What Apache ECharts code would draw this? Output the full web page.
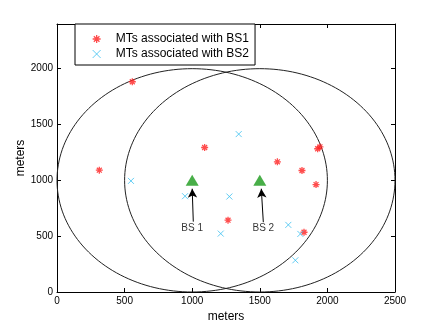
<!DOCTYPE html>
<html>
<head>
<meta charset="utf-8">
<script src="https://cdn.jsdelivr.net/npm/echarts@6/dist/echarts.min.js"></script>
<style>
  html, body { margin: 0; padding: 0; background: #fff; }
  #chart { width: 436px; height: 328px; }
</style>
</head>
<body>
<div id="chart"></div>
<script>
// mobile terminals served by each base station
const bs1Points = [
  [313, 1091], [557, 1883], [1092, 1294], [1630, 1166], [1812, 1088],
  [1928, 1283], [1945, 1300], [1916, 962], [1265, 643], [1827, 535]
];
const bs2Points = [
  [547, 995], [947, 858], [1344, 1414], [1275, 855], [1211, 523],
  [1711, 601], [1800, 520], [1763, 284]
];
// base stations and their coverage
const stations = [[1000, 1000], [1500, 1000]];
const coverageRadius = [1000, 1000];
// annotation arrows: [tail, tip] and label positions
const arrows = [
  [[1008, 630], [1000, 925]],
  [[1526, 625], [1511, 925]]
];
const arrowLabels = [[1000, 571, 'BS 1'], [1526, 571, 'BS 2']];
const xTicks = [0, 500, 1000, 1500, 2000, 2500];
const yTicks = [0, 500, 1000, 1500, 2000];

const chart = echarts.init(document.getElementById('chart'));

// coverage circles drawn from center and radius
function circle(c, r) {
  const pts = [];
  for (let i = 0; i <= 360; i += 2) {
    const a = i * Math.PI / 180;
    pts.push([c[0] + r * Math.cos(a), c[1] + r * Math.sin(a)]);
  }
  return pts;
}

const asterisk = 'path://M5,0L5,10M0,5L10,5M1.5,1.5L8.5,8.5M1.5,8.5L8.5,1.5';
const cross = 'path://M0,0L10,10M0,10L10,0';

const font = 'Liberation Sans, Arial, Helvetica, sans-serif';

const circleSeries = stations.map((c, i) => ({
  type: 'line',
  data: circle(c, coverageRadius[i]),
  showSymbol: false,
  silent: true,
  lineStyle: { color: '#222', width: 1 },
  z: 1
}));

const boxAxis = {
  type: 'value',
  axisLine: { show: true, onZero: false, lineStyle: { color: '#000' } },
  axisTick: { inside: true, length: 4, lineStyle: { color: '#000' } },
  axisLabel: { show: false },
  splitLine: { show: false }
};

const option = {
  animation: false,
  textStyle: { fontFamily: font },
  grid: { left: 57, right: 41, top: 24, bottom: 36 },
  legend: {
    orient: 'vertical',
    left: 75,
    top: 24,
    width: 170,
    backgroundColor: '#fff',
    borderColor: '#000',
    borderWidth: 1,
    borderRadius: 0,
    padding: [9, 6, 5, 17],
    itemGap: 3,
    itemWidth: 8,
    itemHeight: 8,
    textStyle: { fontSize: 12, color: '#000', padding: [0, 0, 0, 10], fontFamily: font },
    data: [
      { name: 'MTs associated with BS1', icon: asterisk,
        itemStyle: { color: 'transparent', borderColor: '#ff2020', borderWidth: 1.3 } },
      { name: 'MTs associated with BS2', icon: cross,
        itemStyle: { color: 'transparent', borderColor: '#3cc0f0', borderWidth: 1 } }
    ]
  },
  xAxis: [{
    type: 'value', min: 0, max: 2500, interval: 500,
    name: 'meters', nameLocation: 'middle', nameGap: 19, nameMoveOverlap: false,
    nameTextStyle: { fontSize: 12, color: '#000' },
    axisLine: { show: true, onZero: false, lineStyle: { color: '#000' } },
    axisTick: { inside: true, length: 4, lineStyle: { color: '#000' } },
    axisLabel: {
      fontSize: 10, color: '#000', margin: 4,
      formatter: v => (xTicks.indexOf(v) >= 0 ? String(v) : '')
    },
    splitLine: { show: false }
  }, Object.assign({}, boxAxis, { min: 0, max: 2500, interval: 500, position: 'top' })],
  yAxis: [{
    type: 'value', min: 0, max: 2400, interval: 500,
    name: 'meters', nameLocation: 'middle', nameGap: 30, nameMoveOverlap: false,
    nameTextStyle: { fontSize: 12, color: '#000' },
    axisLine: { show: true, onZero: false, lineStyle: { color: '#000' } },
    axisTick: { inside: true, length: 4, lineStyle: { color: '#000' } },
    axisLabel: {
      fontSize: 10, color: '#000', margin: 4,
      formatter: v => (yTicks.indexOf(v) >= 0 ? String(v) : '')
    },
    splitLine: { show: false }
  }, Object.assign({}, boxAxis, { min: 0, max: 2400, interval: 500, position: 'right' })],
  series: [
    ...circleSeries,
    {
      name: 'MTs associated with BS1',
      type: 'scatter',
      data: bs1Points,
      symbol: asterisk,
      symbolSize: 7,
      itemStyle: { color: 'transparent', borderColor: '#ff2020', borderWidth: 1.3 },
      z: 3
    },
    {
      name: 'MTs associated with BS2',
      type: 'scatter',
      data: bs2Points,
      symbol: cross,
      symbolSize: 6,
      itemStyle: { color: 'transparent', borderColor: '#3cc0f0', borderWidth: 1 },
      z: 3
    },
    {
      type: 'scatter',
      data: stations,
      symbol: 'triangle',
      symbolSize: [13, 11],
      itemStyle: { color: '#1a9a1a' },
      z: 4
    },
    {
      type: 'scatter',
      data: arrowLabels,
      symbolSize: 0,
      label: {
        show: true, position: 'inside', formatter: p => p.value[2],
        fontSize: 10, color: '#000'
      },
      markLine: {
        silent: true,
        symbol: ['none', 'arrow'],
        symbolSize: [7, 9],
        label: { show: false },
        lineStyle: { color: '#000', width: 1, type: 'solid' },
        data: arrows.map(a => [{ coord: a[0] }, { coord: a[1] }])
      },
      z: 5
    }
  ]
};

chart.setOption(option);
</script>
</body>
</html>
